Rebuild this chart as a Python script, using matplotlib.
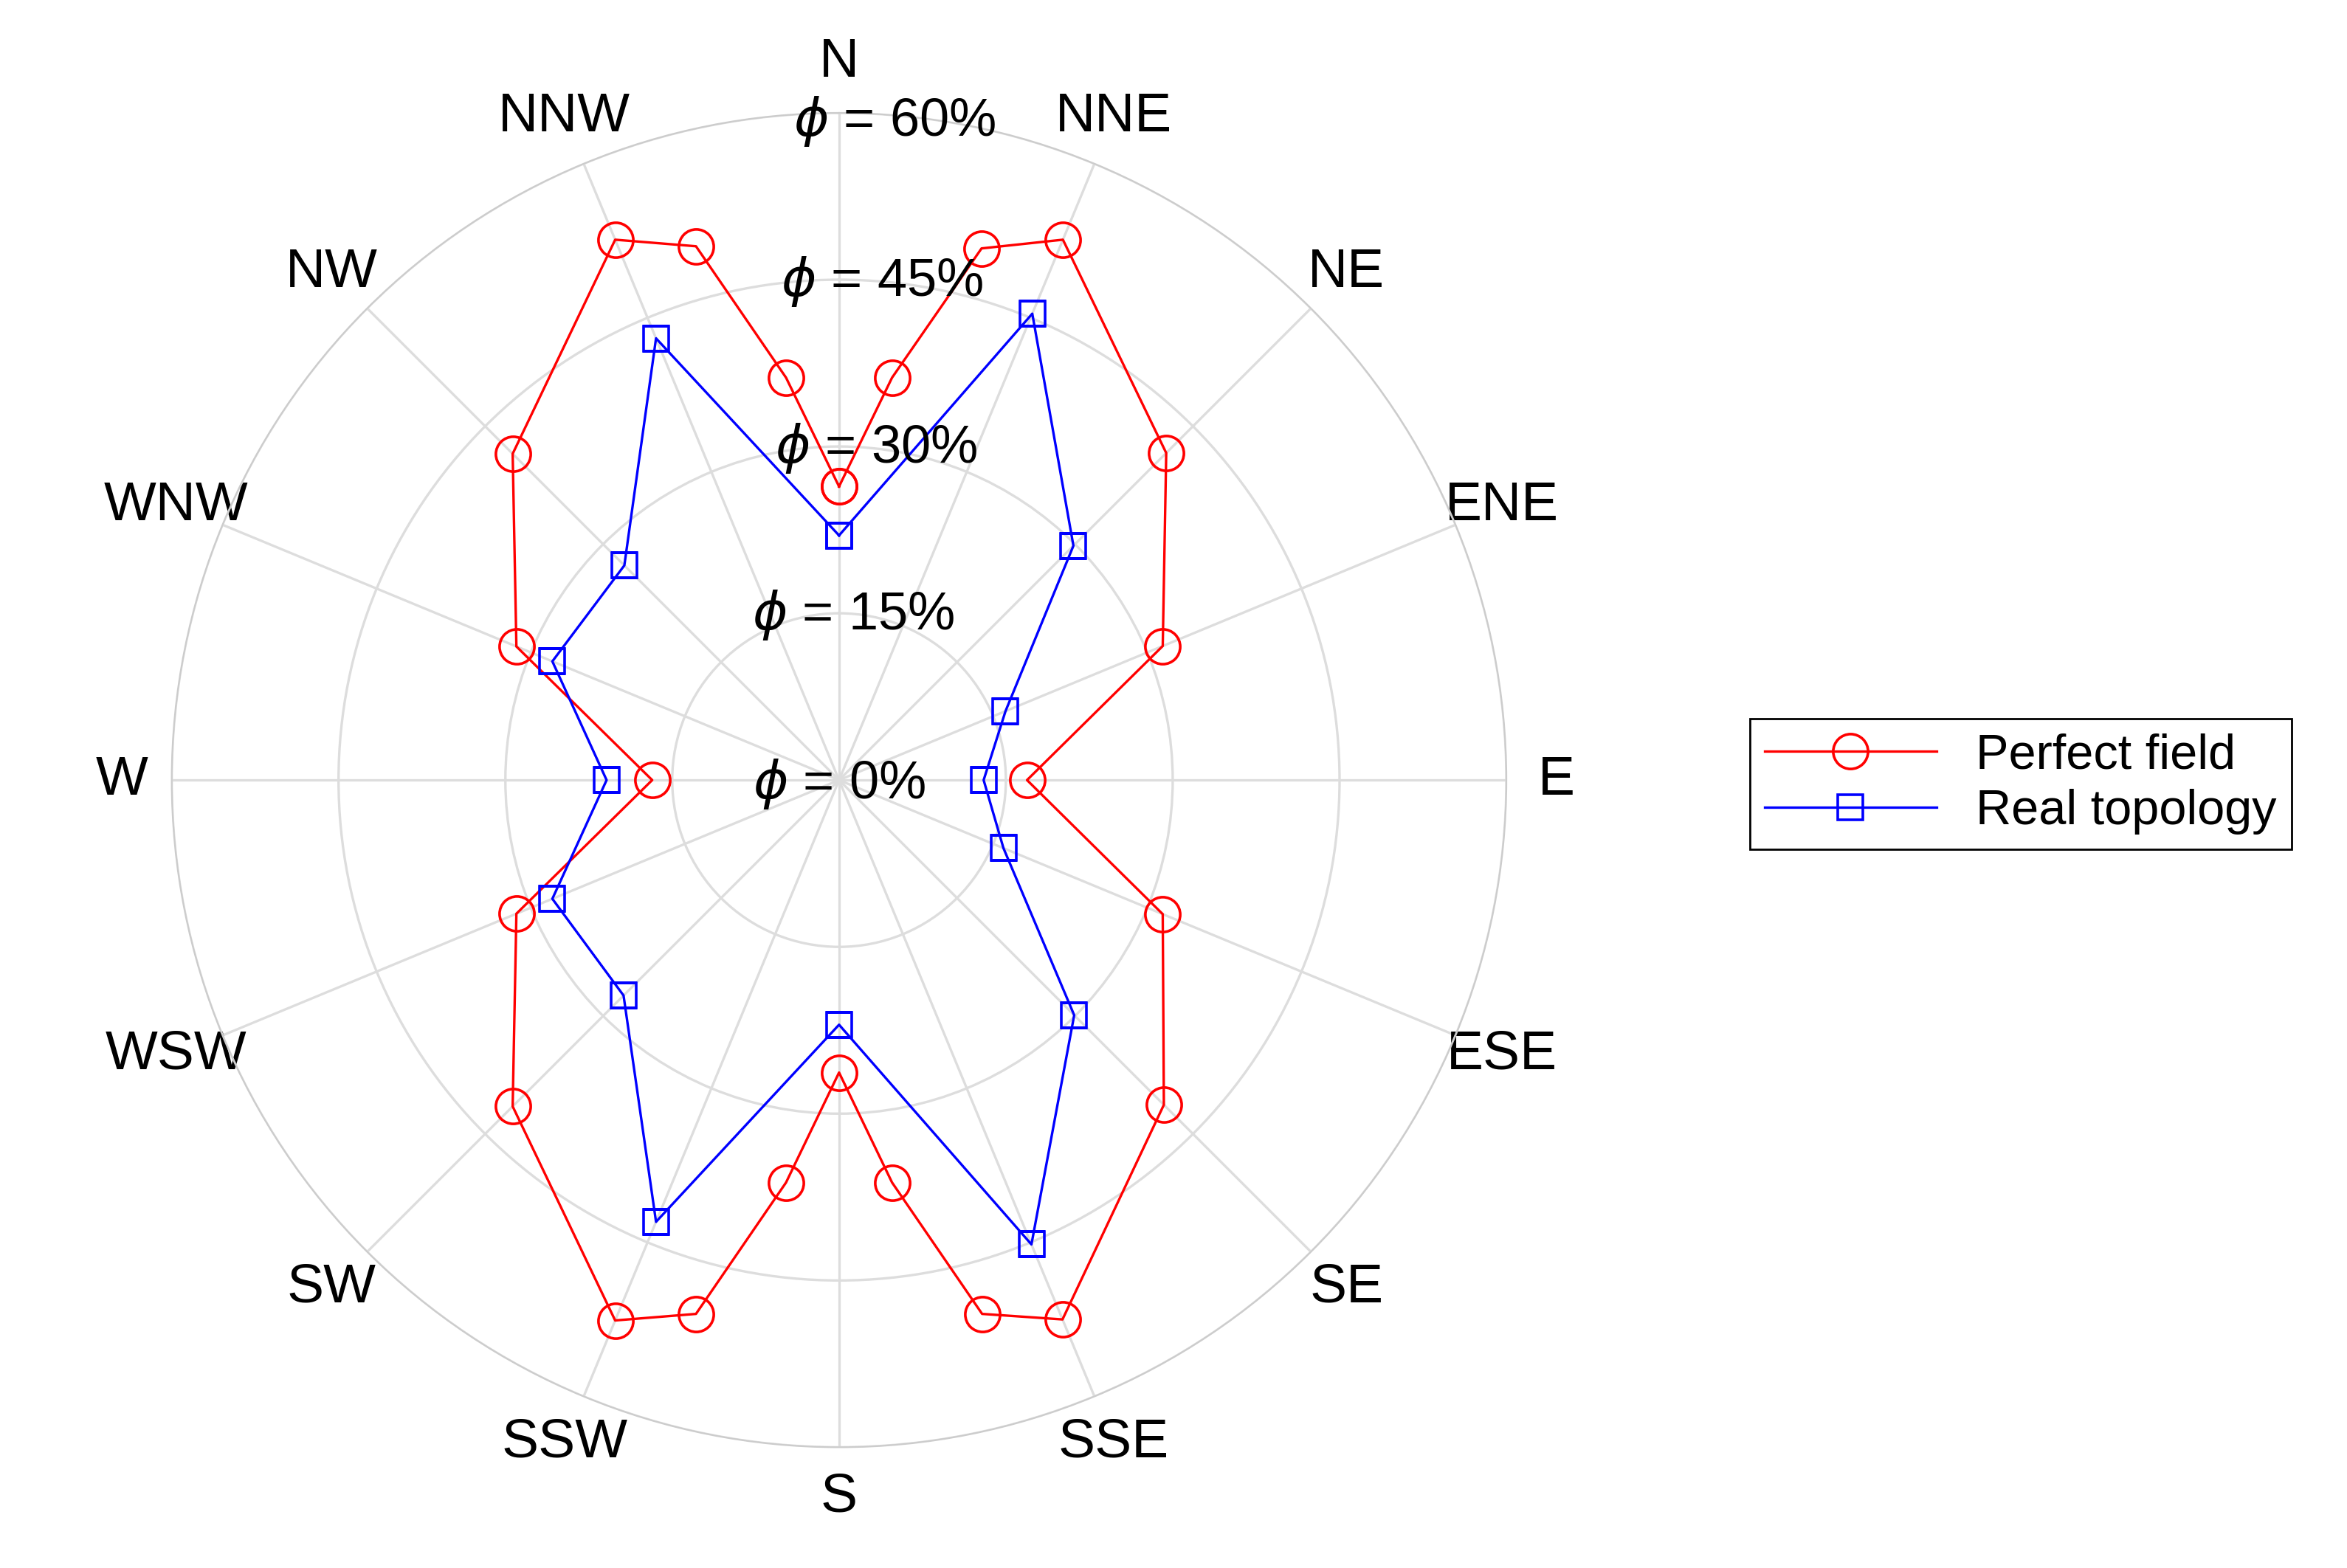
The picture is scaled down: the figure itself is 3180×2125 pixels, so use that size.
import numpy as np
import matplotlib.pyplot as plt

plt.rcParams['font.family'] = ['Liberation Sans', 'DejaVu Sans']

# angles in degrees clockwise from north
perfect_deg = [0, 7.5, 15, 22.5, 45, 67.5, 90, 112.5, 135, 157.5, 165, 172.5, 180,
               187.5, 195, 202.5, 225, 247.5, 270, 292.5, 315, 337.5, 345, 352.5, 360]
perfect_val = [26.4, 36.5, 49.5, 52.6, 41.6, 31.5, 16.9, 31.5, 41.3, 52.5, 49.7, 36.5, 26.3,
               36.5, 49.7, 52.6, 41.5, 31.4, 16.8, 31.4, 41.5, 52.6, 49.7, 36.5, 26.4]
real_deg = [0, 22.5, 45, 67.5, 90, 112.5, 135, 157.5, 180,
            202.5, 225, 247.5, 270, 292.5, 315, 337.5, 360]
real_val = [22.0, 45.4, 29.8, 16.2, 13.0, 16.0, 29.9, 45.2, 22.0,
            43.0, 27.4, 27.9, 20.9, 27.9, 27.3, 43.0, 22.0]
dir_labels = ['N', 'NNE', 'NE', 'ENE', 'E', 'ESE', 'SE', 'SSE',
              'S', 'SSW', 'SW', 'WSW', 'W', 'WNW', 'NW', 'NNW']
r_ticks = [0, 15, 30, 45, 60]

fig = plt.figure(figsize=(15.9, 10.625), dpi=200)
ax = fig.add_axes([0.071, 0.077, 0.573, 0.851], projection='polar')
ax.set_theta_zero_location('N')
ax.set_theta_direction(-1)

ax.plot(np.deg2rad(perfect_deg), perfect_val, color='red', lw=1.2, marker='o',
        ms=17, mfc='none', mew=1.3, label='Perfect field')
ax.plot(np.deg2rad(real_deg), real_val, color='blue', lw=1.2, marker='s',
        ms=12, mfc='none', mew=1.3, label='Real topology')

ax.set_ylim(0, 60)
ax.set_yticks([15, 30, 45, 60])
ax.set_yticklabels([])
ax.set_xticks(np.deg2rad(np.arange(0, 360, 22.5)))
ax.set_xticklabels(dir_labels, fontsize=27)
ax.tick_params(axis='x', pad=14)
ax.grid(color='#dddddd', lw=1.2)
ax.spines['polar'].set_color('#cccccc')

# radial labels, offsets in points from the tick position
label_dx = [0, 7, 18, 21, 27]
label_dy = [-2, -1, -1, -1, -4]
for r, dx, dy in zip(r_ticks, label_dx, label_dy):
    ax.annotate(r'$\phi$ = %d%%' % r, xy=(0, r), xytext=(dx, dy),
                textcoords='offset points', fontsize=26, ha='center',
                va='center', annotation_clip=False)

fig.legend(loc='center left', bbox_to_anchor=(0.735, 0.5), fontsize=24,
           fancybox=False, edgecolor='black', framealpha=1, handlelength=3.5,
           borderpad=0.3, labelspacing=0.2)
fig.savefig('out.png')
